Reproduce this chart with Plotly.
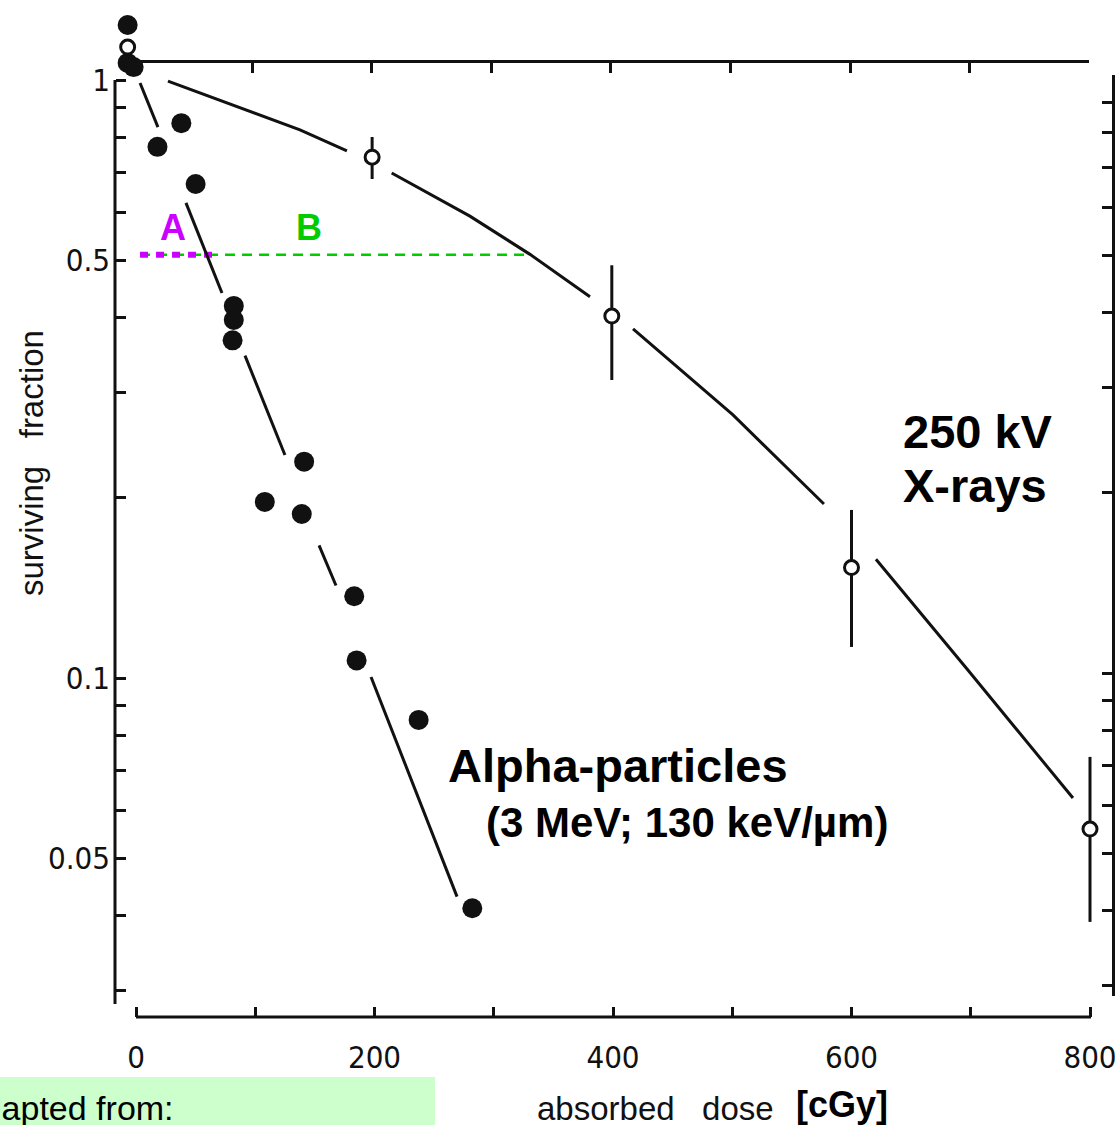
import plotly.graph_objects as go

W, H = 1120, 1125

# ---------------- data ----------------
# Alpha-particles: filled circles
alpha_dose = [-7, -7, -2, 18, 38, 50, 81, 82, 82, 108, 139, 141, 183, 185, 237, 282]
alpha_surv = [1.236, 1.068, 1.051, 0.773, 0.847, 0.670, 0.367, 0.397, 0.419,
              0.197, 0.188, 0.230, 0.137, 0.107, 0.0851, 0.0412]

# 250 kV X-rays: open circles with error bars
xray_dose = [-7, 198, 399, 600, 800]
xray_surv = [1.135, 0.743, 0.403, 0.153, 0.0559]
xray_hi = [1.135, 0.803, 0.490, 0.191, 0.0738]
xray_lo = [1.135, 0.683, 0.315, 0.1127, 0.0391]

# drawn fit lines (segments broken around the symbols)
alpha_fit_dose = [3.4, 18.4, None, 41.9, 72.1, None, 91.4, 124.9, None,
                  153.5, 167.7, None, 197.1, 269.2]
alpha_fit_surv = [0.9885, 0.834, None, 0.623, 0.4404, None, 0.346, 0.236, None,
                  0.1666, 0.1428, None, 0.1004, 0.0431]

xray_fit_dose = [26.8, 137.5, 176.9, None, 214.4, 280, 330.4, 380.7, None,
                 416.8, 500.6, 576.9, None, 620.5, 696.9, 785.7]
xray_fit_surv = [0.996, 0.825, 0.761, None, 0.699, 0.592, 0.511, 0.434, None,
                 0.3835, 0.2754, 0.1954, None, 0.158, 0.1035, 0.0630]

# 50 % survival markers
half_level = 0.51
A_dose = [3.4, 64.6]
B_dose = [3.4, 326]

# ticks
x_ticks = [0, 100, 200, 300, 400, 500, 600, 700, 800]
x_ticklabels = ["0", "", "200", "", "400", "", "600", "", "800"]
x_top_ticks = [100, 200, 300, 400, 500, 600, 700, 800]
y_ticks = [0.03, 0.04, 0.05, 0.06, 0.07, 0.08, 0.09,
           0.1, 0.2, 0.3, 0.4, 0.5, 0.6, 0.7, 0.8, 0.9, 1.0]
y_ticklabels = ["", "", "0.05", "", "", "", "",
                "0.1", "", "", "", "0.5", "", "", "", "", "1"]

# ---------------- styling ----------------
INK = "#111111"
ARIAL = "Liberation Sans, Arial, sans-serif"
OLD = "DejaVu Sans Condensed, Liberation Sans, sans-serif"
MAGENTA = "#CC00FF"
GREEN = "#00CC00"

# pixel geometry of the scanned frame
PXPERCGY = 1.1925      # px per cGy (bottom axis)
X0PX = 136             # px of dose 0
PXPERDEC = 598.0       # px per decade (left axis)
Y1PX = 80              # px of surviving fraction 1


def xr(p0, p1, x0=X0PX, s=PXPERCGY):
    return [(p0 - x0) / s, (p1 - x0) / s]


def yr(p_bottom, p_top, y1=Y1PX):
    return [-(p_bottom - y1) / PXPERDEC, -(p_top - y1) / PXPERDEC]


fig = go.Figure()

# 50% guide lines
fig.add_trace(go.Scatter(x=B_dose, y=[half_level, half_level], mode="lines",
                         line=dict(color=GREEN, width=2.5, dash="10px,7px"),
                         showlegend=False, hoverinfo="skip"))
fig.add_trace(go.Scatter(x=A_dose, y=[half_level, half_level], mode="lines",
                         line=dict(color=MAGENTA, width=6, dash="8px,8px"),
                         showlegend=False, hoverinfo="skip"))

# fit lines
fig.add_trace(go.Scatter(x=alpha_fit_dose, y=alpha_fit_surv, mode="lines",
                         line=dict(color=INK, width=3), connectgaps=False,
                         showlegend=False, hoverinfo="skip"))
fig.add_trace(go.Scatter(x=xray_fit_dose, y=xray_fit_surv, mode="lines",
                         line=dict(color=INK, width=3), connectgaps=False,
                         showlegend=False, hoverinfo="skip"))

# data points
fig.add_trace(go.Scatter(x=alpha_dose, y=alpha_surv, mode="markers",
                         marker=dict(symbol="circle", size=20, color=INK,
                                     line=dict(width=0)),
                         cliponaxis=False, showlegend=False))
err_plus = [h - s for h, s in zip(xray_hi, xray_surv)]
err_minus = [s - l for l, s in zip(xray_lo, xray_surv)]
fig.add_trace(go.Scatter(x=xray_dose, y=xray_surv, mode="markers",
                         marker=dict(symbol="circle", size=14, color="white",
                                     line=dict(width=3, color=INK)),
                         error_y=dict(type="data", symmetric=False, array=err_plus,
                                      arrayminus=err_minus, color=INK,
                                      thickness=3, width=0),
                         cliponaxis=False, showlegend=False))

# invisible traces to instantiate the frame axes (top, right)
for xa, ya in [("x2", "y"), ("x", "y2")]:
    fig.add_trace(go.Scatter(x=[None], y=[None], xaxis=xa, yaxis=ya,
                             showlegend=False, hoverinfo="skip"))

tick_common = dict(ticks="inside", ticklen=10, tickwidth=3, tickcolor=INK,
                   showgrid=False, zeroline=False, automargin=False)

fig.update_layout(
    width=W, height=H, autosize=False,
    margin=dict(l=0, r=0, t=0, b=0),
    paper_bgcolor="white", plot_bgcolor="rgba(0,0,0,0)",
    showlegend=False,
    # data axes (extended so that symbols above 1 / left of 0 are kept)
    xaxis=dict(domain=[110 / W, 1104 / W], range=xr(110, 1104),
               anchor="free", position=1 - 1017 / H, showline=False,
               tickmode="array", tickvals=x_ticks, ticktext=x_ticklabels,
               tickfont=dict(family=OLD, size=31, color=INK),
               ticklabelstandoff=19, **tick_common),
    yaxis=dict(type="log", domain=[1 - 1012 / H, 1 - 12 / H], range=yr(1012, 12),
               anchor="free", position=115 / W, showline=False,
               tickmode="array", tickvals=y_ticks, ticktext=y_ticklabels,
               tickfont=dict(family=OLD, size=31, color=INK),
               ticklabelstandoff=5, **tick_common),
    # top frame axis (line + downward ticks)
    xaxis2=dict(domain=[128 / W, 1089 / W], range=xr(128, 1089, 132.4, 1.196),
                anchor="free", position=1 - 61 / H, side="top",
                showline=True, linewidth=3, linecolor=INK,
                tickmode="array", tickvals=x_top_ticks, showticklabels=False,
                **tick_common),
    # right frame axis (line + leftward ticks)
    yaxis2=dict(type="log", domain=[1 - 996 / H, 1 - 75 / H], range=yr(996, 75, 75),
                anchor="free", position=1113 / W, side="right",
                showline=True, linewidth=3, linecolor=INK,
                tickmode="array", tickvals=y_ticks, showticklabels=False,
                **tick_common),
)


def ann(text, x, y, size, color="black", xanchor="left", family=ARIAL, angle=0):
    return dict(text=text, x=x / W, y=1 - y / H, xref="paper", yref="paper",
                xanchor=xanchor, yanchor="middle", showarrow=False,
                textangle=angle, font=dict(family=family, size=size, color=color))


annotations = [
    ann("<b>250 kV</b>", 901, 431, 47),
    ann("<b>X-rays</b>", 901, 486, 47),
    ann("<b>Alpha-particles</b>", 446, 765, 47),
    ann("<b>(3 MeV; 130 keV/µm)</b>", 484, 822, 42),
    ann("<b>A</b>", 173, 227, 36, color=MAGENTA, xanchor="center"),
    ann("<b>B</b>", 309, 227, 36, color=GREEN, xanchor="center"),
    ann("surviving\u00a0\u00a0\u00a0fraction", 31, 463, 33, color=INK,
        xanchor="center", angle=-90),
    ann("absorbed\u00a0\u00a0\u00a0dose", 655, 1108, 33, color=INK, xanchor="center"),
    ann("<b>[cGy]</b>", 842, 1104, 36, xanchor="center"),
    ann("Adapted from:", 176, 1108, 34, xanchor="right"),
]
fig.update_layout(annotations=annotations)


def frame_line(x0, y0, x1, y1):
    fig.add_shape(type="line", xref="paper", yref="paper",
                  x0=x0 / W, y0=1 - y0 / H, x1=x1 / W, y1=1 - y1 / H,
                  line=dict(color=INK, width=3))


frame_line(115, 80, 115, 1004)     # left axis
frame_line(136, 1017, 1091, 1017)  # bottom axis

fig.add_shape(type="rect", xref="paper", yref="paper",
              x0=0, x1=435 / W, y0=0, y1=1 - 1077 / H,
              fillcolor="#CCFFCC", line=dict(width=0), layer="below")

fig.write_html("out.html", config={"displayModeBar": False},
               post_script="document.body.style.margin='0';document.body.style.overflow='hidden';")
